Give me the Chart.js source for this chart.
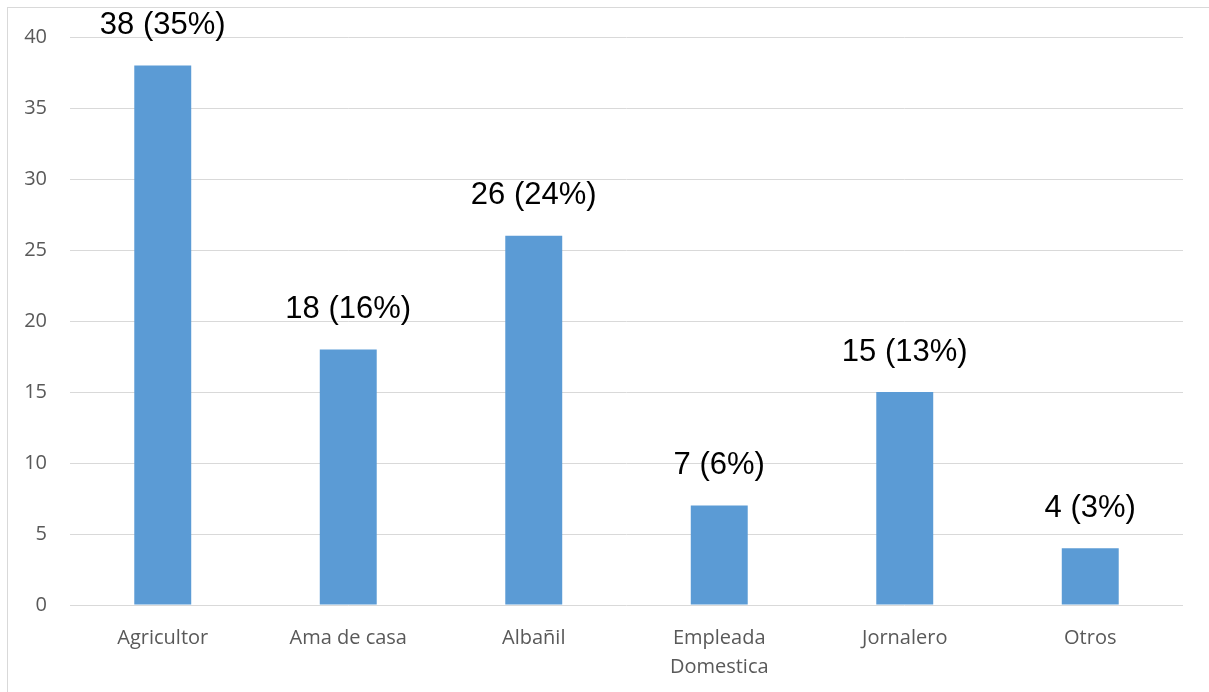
<!DOCTYPE html>
<html>
<head>
<meta charset="utf-8">
<script src="https://cdn.jsdelivr.net/npm/chart.js@4"></script>
<style>
  html, body { margin: 0; padding: 0; background: #fff; }
  #wrap { position: relative; width: 1209px; height: 692px; overflow: hidden; }
  #frame { position: absolute; left: 7px; top: 7px; width: 1220px; height: 700px; border: 1px solid #d9d9d9; box-sizing: border-box; }
  #chart { position: absolute; left: 0; top: 0; }
</style>
</head>
<body>
<div id="wrap">
  <div id="frame"></div>
  <canvas id="chart" width="1209" height="692"></canvas>
</div>
<script>
// occupation counts and their share of the total
const categories = ['Agricultor', 'Ama de casa', 'Albañil', ['Empleada', 'Domestica'], 'Jornalero', 'Otros'];
const counts = [38, 18, 26, 7, 15, 4];
const percents = [35, 16, 24, 6, 13, 3];
const yTicks = [0, 5, 10, 15, 20, 25, 30, 35, 40];

// writes "count (pct%)" above each bar
const valueLabels = {
  id: 'valueLabels',
  afterDatasetsDraw(chart) {
    const ctx = chart.ctx;
    const meta = chart.getDatasetMeta(0);
    ctx.save();
    ctx.font = '31px "Liberation Sans", Arial, sans-serif';
    ctx.fillStyle = '#000';
    ctx.textAlign = 'center';
    ctx.textBaseline = 'middle';
    meta.data.forEach((bar, i) => {
      ctx.fillText(counts[i] + ' (' + percents[i] + '%)', bar.x, bar.y - 40);
    });
    ctx.restore();
  }
};

new Chart(document.getElementById('chart'), {
  type: 'bar',
  data: {
    labels: categories,
    datasets: [{
      data: counts,
      backgroundColor: '#5b9bd5',
      categoryPercentage: 1,
      barPercentage: 0.307
    }]
  },
  plugins: [valueLabels],
  options: {
    responsive: false,
    animation: false,
    layout: { padding: { left: 8, right: 26, top: 37, bottom: 0 } },
    plugins: { legend: { display: false }, tooltip: { enabled: false } },
    scales: {
      x: {
        grid: { display: false },
        border: { display: false },
        ticks: {
          color: '#595959',
          padding: 11,
          maxRotation: 0,
          font: { family: '"Open Sans", sans-serif', size: 20, lineHeight: 1.45 }
        },
        afterFit: (s) => { s.height = 87; }
      },
      y: {
        min: 0,
        max: 40,
        afterBuildTicks: (s) => { s.ticks = yTicks.map((v) => ({ value: v })); },
        grid: { color: '#d9d9d9', lineWidth: 1, drawTicks: false },
        border: { display: false },
        ticks: {
          color: '#595959',
          padding: 23,
          font: { family: '"Open Sans", sans-serif', size: 20 }
        },
        afterFit: (s) => { s.width = 62; }
      }
    }
  }
});
</script>
</body>
</html>
